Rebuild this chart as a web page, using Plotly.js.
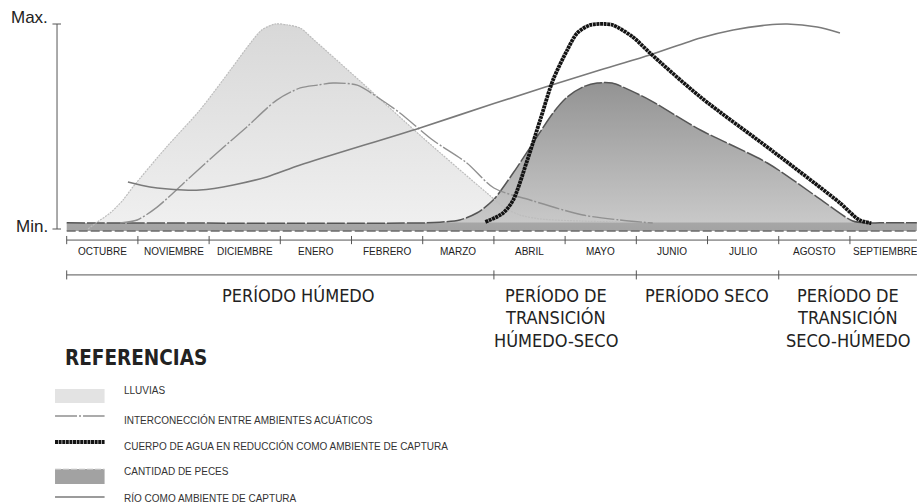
<!DOCTYPE html>
<html>
<head>
<meta charset="utf-8">
<script src="https://cdn.plot.ly/plotly-3.0.1.min.js"></script>
<style>html,body{margin:0;padding:0;background:#fff;}#chart{width:917px;height:504px;}</style>
</head>
<body>
<div id="chart"></div>
<script>
// ---- data (x in months from the start of October, level 0 = Min, 1 = Max) ----
const months = ['OCTUBRE','NOVIEMBRE','DICIEMBRE','ENERO','FEBRERO','MARZO','ABRIL','MAYO','JUNIO','JULIO','AGOSTO','SEPTIEMBRE'];
const periodBounds = [0, 6, 8, 10];
const periodCenters = [3.25, 6.87, 8.99, 10.97];
const periodLabels = [['PERÍODO HÚMEDO'], ['PERÍODO DE','TRANSICIÓN','HÚMEDO-SECO'], ['PERÍODO SECO'], ['PERÍODO DE','TRANSICIÓN','SECO-HÚMEDO']];
const levelLabels = ['Min.', 'Max.'];
const legendLabels = ['LLUVIAS','INTERCONECCIÓN ENTRE AMBIENTES ACUÁTICOS','CUERPO DE AGUA EN REDUCCIÓN COMO AMBIENTE DE CAPTURA','CANTIDAD DE PECES','RÍO COMO AMBIENTE DE CAPTURA'];

const lluviasX = [0.30,0.43,0.61,0.79,0.93,1.39,1.87,2.30,2.58,2.74,2.93,3.11,3.28,3.49,4.12,4.99,5.90,6.16,6.37,6.65,7.21,7.77];
const lluviasY = [0.0,0.034,0.078,0.141,0.205,0.395,0.580,0.776,0.907,0.971,1.0,0.995,0.980,0.917,0.722,0.449,0.176,0.102,0.068,0.049,0.039,0.034];

const interX = [0.75,0.99,1.27,1.69,2.11,2.53,2.95,3.28,3.52,3.74,4.08,4.36,4.68,5.14,5.62,6.0,6.55,7.25,7.77,8.23];
const interY = [0.03,0.044,0.107,0.239,0.371,0.498,0.629,0.688,0.702,0.712,0.702,0.644,0.566,0.434,0.322,0.200,0.137,0.068,0.044,0.029];

const rioX = [0.86,1.17,1.64,1.87,2.34,2.81,3.28,4.96,6.0,7.49,8.19,8.90,9.36,9.84,10.12,10.54,10.86];
const rioY = [0.229,0.205,0.190,0.190,0.215,0.254,0.312,0.493,0.612,0.776,0.849,0.932,0.971,0.995,1.0,0.985,0.956];

const cuerpoX = [5.88,6.13,6.27,6.47,6.65,6.83,7.03,7.17,7.35,7.56,7.67,7.95,8.19,8.90,9.93,10.86,11.13,11.30];
const cuerpoY = [0.034,0.078,0.141,0.337,0.532,0.727,0.873,0.956,0.995,1.0,0.995,0.937,0.859,0.644,0.376,0.127,0.044,0.029];

const pecesX = [0,5.05,5.24,5.52,5.76,5.99,6.27,6.55,6.83,7.03,7.25,7.45,7.66,7.81,8.19,8.90,9.84,10.54,11.04,11.24,11.42,11.94];
const pecesY = [0.03,0.03,0.033,0.044,0.078,0.141,0.273,0.420,0.566,0.644,0.693,0.712,0.712,0.693,0.629,0.483,0.322,0.156,0.039,0.03,0.03,0.03];
const pecesBaseX = [0, 11.94];
const pecesBaseY = [-0.01, -0.01];

// ---- layout helpers ----
const narrow = "'Liberation Sans Narrow','Arial Narrow','DejaVu Sans Condensed',sans-serif";
const arial = "'Liberation Sans',Arial,sans-serif";
const monthAxisY = -0.054, periodAxisY = -0.224;
const cuerpoLine = {color:'#141414', width:3.8, dash:'3px,0.6px'};

const traces = [
  {x: lluviasX, y: lluviasY, type:'scatter', mode:'lines', line:{width:0, shape:'spline', smoothing:0.8},
   fill:'tozeroy', fillgradient:{type:'vertical', colorscale:[[0,'#f0f0f0'],[1,'#d8d8d8']]}, hoverinfo:'skip'},
  {x: pecesBaseX, y: pecesBaseY, type:'scatter', mode:'lines', line:{color:'#6a6a6a', width:1.5, dash:'9px,3px'}, hoverinfo:'skip'},
  {x: pecesX, y: pecesY, type:'scatter', mode:'lines', line:{color:'#555', width:1.5, dash:'18px,2px', shape:'spline', smoothing:0.8},
   fill:'tonexty', fillgradient:{type:'vertical', colorscale:[[0,'#a3a3a3'],[0.055,'#a6a6a6'],[0.06,'#c8c8c8'],[0.35,'#b8b8b8'],[1,'#939393']]}, hoverinfo:'skip'},
  {x: lluviasX, y: lluviasY, type:'scatter', mode:'lines', line:{color:'#bdbdbd', width:1.2, dash:'2px,1px', shape:'spline', smoothing:0.8}, hoverinfo:'skip'},
  {x: interX, y: interY, type:'scatter', mode:'lines', line:{color:'#909090', width:1.4, dash:'22px,2px,2px,2px', shape:'spline', smoothing:0.8}, hoverinfo:'skip'},
  {x: rioX, y: rioY, type:'scatter', mode:'lines', line:{color:'#7a7a7a', width:1.6, shape:'spline', smoothing:0.8}, hoverinfo:'skip'},
  {x: cuerpoX, y: cuerpoY, type:'scatter', mode:'lines', line:Object.assign({shape:'spline', smoothing:0.8}, cuerpoLine), hoverinfo:'skip'}
];

const shapes = [];
const annotations = [];

// level axis (Min / Max)
shapes.push({type:'line', xref:'x', yref:'y', x0:-0.136, x1:-0.136, y0:0, y1:1, line:{color:'#555', width:1}});
[0,1].forEach(v => {
  shapes.push({type:'line', xref:'x', yref:'y', x0:-0.2, x1:-0.08, y0:v, y1:v, line:{color:'#555', width:1}});
  annotations.push({x:-0.24, y:v + (v ? 0.03 : 0.01), xref:'x', yref:'y', text:levelLabels[v], showarrow:false, xanchor:'right', yanchor:'middle', font:{family:arial, size:17, color:'#222'}});
});

// month axis
shapes.push({type:'line', xref:'x', yref:'y', x0:0, x1:11.95, y0:monthAxisY, y1:monthAxisY, line:{color:'#555', width:1}});
months.forEach((m, i) => {
  shapes.push({type:'line', xref:'x', yref:'y', x0:i, x1:i, y0:monthAxisY-0.02, y1:monthAxisY+0.02, line:{color:'#555', width:1}});
  annotations.push({x:i+0.5, y:-0.112, xref:'x', yref:'y', text:m, showarrow:false, xanchor:'center', yanchor:'middle', font:{family:arial, size:10, color:'#222'}});
});

// period axis
shapes.push({type:'line', xref:'x', yref:'y', x0:0, x1:11.95, y0:periodAxisY, y1:periodAxisY, line:{color:'#555', width:1}});
periodBounds.forEach(b => {
  shapes.push({type:'line', xref:'x', yref:'y', x0:b, x1:b, y0:periodAxisY-0.022, y1:periodAxisY+0.022, line:{color:'#555', width:1}});
});
const lineYs = [-0.322, -0.434, -0.546];
periodLabels.forEach((lines, i) => {
  lines.forEach((t, j) => {
    annotations.push({x:periodCenters[i], y:lineYs[j], xref:'x', yref:'y', text:t, showarrow:false, xanchor:'center', yanchor:'middle', font:{family:narrow, size:18, color:'#222'}});
  });
});

// references (legend)
annotations.push({x:-0.05, y:-0.628, xref:'x', yref:'y', text:'<b>REFERENCIAS</b>', showarrow:false, xanchor:'left', yanchor:'middle', font:{family:narrow, size:20.5, color:'#222'}});
const legX0 = -0.164, legX1 = 0.532, legTextX = 0.778;
const legTextY = [-0.790, -0.932, -1.059, -1.185, -1.312];
shapes.push({type:'rect', xref:'x', yref:'y', x0:legX0, x1:legX1, y0:-0.849, y1:-0.78, fillcolor:'#e3e3e3', line:{width:0}});
shapes.push({type:'line', xref:'x', yref:'y', x0:legX0, x1:legX1, y0:-0.912, y1:-0.912, line:{color:'#909090', width:1.4, dash:'22px,2px,2px,2px'}});
shapes.push({type:'line', xref:'x', yref:'y', x0:legX0, x1:legX1, y0:-1.039, y1:-1.039, line:cuerpoLine});
shapes.push({type:'rect', xref:'x', yref:'y', x0:legX0, x1:legX1, y0:-1.244, y1:-1.171, fillcolor:'#a2a2a2', line:{width:0}});
shapes.push({type:'line', xref:'x', yref:'y', x0:legX0, x1:legX1, y0:-1.171, y1:-1.171, line:{color:'#d8d8d8', width:1, dash:'6px,2px'}});
shapes.push({type:'line', xref:'x', yref:'y', x0:legX0, x1:legX1, y0:-1.307, y1:-1.307, line:{color:'#7a7a7a', width:1.6}});
legendLabels.forEach((t, i) => {
  annotations.push({x:legTextX, y:legTextY[i], xref:'x', yref:'y', text:t, showarrow:false, xanchor:'left', yanchor:'middle', font:{family:arial, size:10, color:'#333'}});
});

const layout = {
  width:917, height:504,
  margin:{l:0, r:0, t:0, b:0, pad:0},
  paper_bgcolor:'#fff', plot_bgcolor:'#fff',
  showlegend:false,
  xaxis:{range:[-0.9368, 11.942], visible:false, fixedrange:true},
  yaxis:{range:[-1.3415, 1.1171], visible:false, fixedrange:true},
  shapes: shapes,
  annotations: annotations
};

Plotly.newPlot('chart', traces, layout, {staticPlot:true, displayModeBar:false});
</script>
</body>
</html>
